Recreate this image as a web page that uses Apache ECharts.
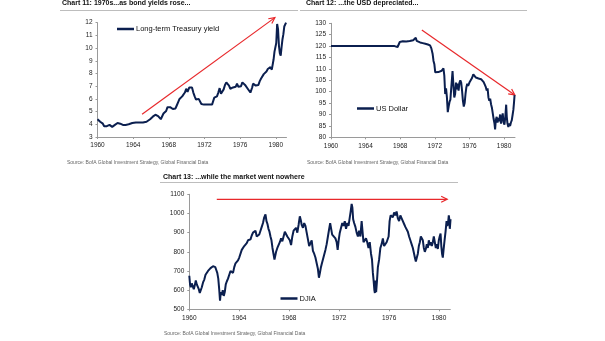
<!DOCTYPE html>
<html><head><meta charset="utf-8">
<script src="https://cdn.jsdelivr.net/npm/echarts@6/dist/echarts.min.js"></script>
<style>html,body{margin:0;padding:0;background:#fff}#c{width:605px;height:341px}</style>
</head><body><div id="c"></div>
<script>
// ---- data ----
const yearTicks = [1960, 1964, 1968, 1972, 1976, 1980];
const treasuryYield = [
[1960.0,4.4],[1960.15,4.25],[1960.3,4.2],[1960.45,4.25],[1960.6,4.05],[1960.75,3.85],[1960.9,3.95],
[1961.05,3.85],[1961.2,3.8],[1961.35,3.95],[1961.5,3.9],[1961.65,3.8],[1961.8,3.75],[1961.95,3.95],
[1962.1,4.05],[1962.25,4.1],[1962.4,4.0],[1962.55,4.05],[1962.7,4.15],[1962.85,3.95],[1963.0,3.9],
[1963.15,3.95],[1963.3,4.0],[1963.5,4.0],[1963.7,4.05],[1963.9,4.1],[1964.1,4.2],[1964.3,4.15],
[1964.5,4.2],[1964.7,4.15],[1964.9,4.15],[1965.1,4.15],[1965.3,4.15],[1965.5,4.2],[1965.7,4.25],
[1965.9,4.4],[1966.05,4.55],[1966.2,4.6],[1966.35,4.55],[1966.5,4.75],[1966.65,4.8],[1966.8,4.65],
[1966.95,4.5],[1967.1,4.4],[1967.25,4.55],[1967.4,4.85],[1967.55,4.95],[1967.7,5.05],[1967.85,5.35],
[1968.0,5.45],[1968.15,5.35],[1968.3,5.45],[1968.45,5.2],[1968.6,5.1],[1968.75,5.25],[1968.9,5.5],
[1969.05,5.75],[1969.2,6.0],[1969.35,5.9],[1969.5,6.2],[1969.65,6.1],[1969.8,6.5],[1969.95,6.8],
[1970.1,6.55],[1970.2,6.7],[1970.3,6.9],[1970.4,6.95],[1970.5,6.75],[1970.6,6.9],[1970.75,6.5],
[1970.9,6.2],[1971.05,5.95],[1971.2,5.8],[1971.35,6.0],[1971.5,5.9],[1971.65,5.6],[1971.8,5.45],
[1971.95,5.55],[1972.1,5.6],[1972.25,5.55],[1972.4,5.7],[1972.55,5.55],[1972.7,5.65],[1972.85,5.55],
[1973.0,5.7],[1973.1,6.1],[1973.25,6.25],[1973.4,6.2],[1973.55,6.5],[1973.7,6.85],[1973.85,6.4],
[1974.0,6.5],[1974.15,6.75],[1974.3,7.1],[1974.45,7.3],[1974.6,7.2],[1974.75,7.05],[1974.9,6.8],
[1975.05,6.65],[1975.2,6.9],[1975.35,7.05],[1975.5,6.95],[1975.65,7.2],[1975.8,6.95],[1975.95,6.85],
[1976.1,7.0],[1976.25,7.3],[1976.4,7.2],[1976.55,7.1],[1976.7,7.0],[1976.85,6.8],[1977.0,6.75],
[1977.15,6.5],[1977.25,6.4],[1977.35,6.9],[1977.45,7.2],[1977.6,7.1],[1977.75,7.05],[1977.9,6.95],
[1978.05,7.1],[1978.2,7.4],[1978.35,7.6],[1978.5,7.75],[1978.65,7.95],[1978.8,7.8],[1978.95,8.15],
[1979.1,8.35],[1979.25,8.45],[1979.4,8.5],[1979.55,8.3],[1979.65,8.4],[1979.75,9.1],[1979.85,9.7],
[1979.95,9.8],[1980.05,10.4],[1980.15,11.9],[1980.25,11.5],[1980.35,10.2],[1980.45,9.6],[1980.55,9.4],
[1980.65,10.1],[1980.75,10.7],[1980.85,11.1],[1980.95,11.7],[1981.05,11.6],[1981.15,12.0]
];
const usDollar = [
[1960.0,120],[1961.0,120],[1962.0,120],[1963.0,120],[1964.0,120],[1965.0,120],[1966.0,120],
[1967.0,120],[1967.35,120],[1967.5,119.7],[1967.7,119.6],[1967.85,120.2],[1967.95,121.8],[1968.1,122.3],
[1968.3,122.1],[1968.5,122.2],[1968.7,122.0],[1968.9,122.3],[1969.1,122.2],[1969.3,122.5],[1969.5,122.6],
[1969.7,122.9],[1969.8,123.7],[1969.9,122.3],[1970.1,121.9],[1970.3,121.6],[1970.6,121.3],[1970.9,121.0],
[1971.2,120.7],[1971.45,120.3],[1971.6,119.0],[1971.75,116.5],[1971.85,113.5],[1971.95,112.0],[1972.05,108.5],
[1972.2,108.2],[1972.4,108.6],[1972.6,108.0],[1972.8,109.2],[1973.0,110.2],[1973.1,107],[1973.2,99],
[1973.3,101.5],[1973.4,97.5],[1973.5,91],[1973.6,93.5],[1973.7,95.5],[1973.8,96.5],[1973.95,97],
[1974.05,109],[1974.15,103],[1974.25,97.5],[1974.35,99],[1974.45,104],[1974.55,101],[1974.65,103.5],
[1974.75,100.5],[1974.85,104],[1974.95,105],[1975.05,104],[1975.15,100.5],[1975.25,96],[1975.35,93.5],
[1975.45,95],[1975.55,99],[1975.65,102],[1975.75,103.5],[1975.85,102.5],[1976.0,104],[1976.15,103.5],
[1976.3,106],[1976.45,107.6],[1976.6,106.8],[1976.75,106.2],[1976.9,106.4],[1977.05,105.8],[1977.2,106.1],
[1977.35,105.5],[1977.5,105.2],[1977.65,104.2],[1977.8,103.5],[1977.9,102],[1978.0,100.5],[1978.1,101.5],
[1978.2,97.5],[1978.3,96],[1978.4,97],[1978.5,94.5],[1978.6,93],[1978.7,90.5],[1978.8,88],
[1978.9,86],[1978.97,83.5],[1979.05,87.5],[1979.15,89],[1979.25,86.5],[1979.35,88.5],[1979.45,87],
[1979.55,90],[1979.65,86],[1979.75,88.5],[1979.85,90.5],[1979.95,86.5],[1980.05,85.5],[1980.15,89],
[1980.25,94.3],[1980.32,89],[1980.4,86],[1980.5,84.5],[1980.6,86],[1980.7,85],[1980.8,86.5],
[1980.9,87.5],[1981.0,90],[1981.08,92],[1981.15,95],[1981.22,98.5]
];
const djia = [
[1960.0,675],[1960.06,630],[1960.12,615],[1960.2,635],[1960.28,620],[1960.36,605],[1960.44,625],
[1960.52,650],[1960.6,630],[1960.68,640],[1960.76,605],[1960.84,585],[1960.92,595],[1961.0,615],
[1961.1,640],[1961.2,655],[1961.3,680],[1961.4,690],[1961.5,700],[1961.6,695],[1961.7,715],
[1961.8,705],[1961.9,725],[1962.0,730],[1962.08,720],[1962.16,705],[1962.24,690],[1962.32,660],
[1962.4,600],[1962.46,545],[1962.52,590],[1962.6,575],[1962.68,600],[1962.76,570],[1962.84,590],
[1962.92,630],[1963.0,645],[1963.1,660],[1963.2,680],[1963.3,700],[1963.4,705],[1963.5,690],
[1963.6,720],[1963.7,740],[1963.8,735],[1963.9,755],[1964.0,770],[1964.1,780],[1964.2,810],
[1964.3,820],[1964.4,830],[1964.5,825],[1964.6,845],[1964.7,860],[1964.8,870],[1964.9,865],
[1965.0,885],[1965.1,900],[1965.2,890],[1965.3,910],[1965.4,880],[1965.5,870],[1965.6,890],
[1965.7,910],[1965.8,930],[1965.9,950],[1966.0,980],[1966.1,995],[1966.18,960],[1966.26,945],
[1966.34,920],[1966.42,905],[1966.5,880],[1966.58,860],[1966.66,820],[1966.74,790],[1966.82,760],
[1966.88,750],[1966.95,800],[1967.05,820],[1967.15,815],[1967.25,850],[1967.35,870],[1967.45,855],
[1967.55,880],[1967.65,905],[1967.75,895],[1967.85,880],[1967.95,885],[1968.05,860],[1968.15,835],
[1968.25,880],[1968.35,910],[1968.45,900],[1968.55,925],[1968.65,900],[1968.75,940],[1968.85,985],
[1968.93,965],[1969.0,940],[1969.1,925],[1969.2,950],[1969.3,935],[1969.4,900],[1969.5,865],
[1969.6,830],[1969.7,835],[1969.8,860],[1969.9,805],[1970.0,790],[1970.1,770],[1970.2,740],
[1970.3,710],[1970.38,665],[1970.46,690],[1970.54,720],[1970.62,740],[1970.7,760],[1970.8,765],
[1970.9,810],[1971.0,840],[1971.1,880],[1971.2,920],[1971.28,950],[1971.36,920],[1971.44,890],
[1971.52,900],[1971.6,880],[1971.7,870],[1971.8,850],[1971.88,810],[1971.96,860],[1972.05,900],
[1972.15,910],[1972.25,950],[1972.35,935],[1972.45,960],[1972.55,920],[1972.65,950],[1972.75,935],
[1972.85,980],[1972.92,1010],[1973.0,1050],[1973.06,1030],[1973.12,970],[1973.2,950],[1973.3,930],
[1973.4,900],[1973.5,880],[1973.6,910],[1973.7,880],[1973.8,960],[1973.88,900],[1973.95,850],
[1974.05,860],[1974.15,870],[1974.25,850],[1974.35,820],[1974.45,850],[1974.55,790],[1974.63,760],
[1974.7,690],[1974.76,650],[1974.82,600],[1974.86,585],[1974.9,650],[1974.96,590],[1975.02,640],
[1975.1,720],[1975.2,760],[1975.3,820],[1975.4,840],[1975.5,870],[1975.6,830],[1975.7,820],
[1975.8,850],[1975.9,840],[1975.96,880],[1976.04,960],[1976.12,990],[1976.2,1000],[1976.3,980],
[1976.4,1005],[1976.5,990],[1976.6,1010],[1976.7,975],[1976.8,960],[1976.9,990],[1977.0,1000],
[1977.1,960],[1977.2,945],[1977.3,930],[1977.4,920],[1977.5,905],[1977.6,880],[1977.7,860],
[1977.8,840],[1977.9,820],[1978.0,790],[1978.08,765],[1978.14,750],[1978.22,770],[1978.3,790],
[1978.38,830],[1978.46,850],[1978.54,880],[1978.62,890],[1978.7,860],[1978.78,820],[1978.86,800],
[1978.94,815],[1979.02,840],[1979.1,820],[1979.18,860],[1979.26,835],[1979.34,850],[1979.42,830],
[1979.5,850],[1979.58,880],[1979.66,870],[1979.74,820],[1979.82,840],[1979.9,815],[1979.98,860],
[1980.05,880],[1980.12,895],[1980.18,830],[1980.24,790],[1980.3,770],[1980.36,810],[1980.44,860],
[1980.52,905],[1980.6,960],[1980.66,935],[1980.72,950],[1980.78,990],[1980.82,970],[1980.86,920],[1980.92,970]
];
const arrow11 = [[1965.0, 4.8, 1979.9, 12.4]];
const arrow12 = [[1970.5, 127.1, 1981.25, 98.6]];
const arrow13 = [[1962.2, 1074, 1980.65, 1074]];
// ---- styles ----
const NAVY = '#0b1f4f', RED = '#e8282b', AXIS = '#9a9a9a';
const FONT = "'Liberation Sans Narrow','Liberation Sans',Arial,sans-serif";
const chart = echarts.init(document.getElementById('c'), null, {renderer: 'canvas'});
function xAx(gi, max) {
  return {type: 'value', gridIndex: gi, min: 1960, max: max,
    axisLine: {lineStyle: {color: AXIS, width: 1}},
    axisTick: {show: true, length: 2, lineStyle: {color: AXIS}, customValues: yearTicks},
    axisLabel: {fontSize: 6.5, color: '#222', fontFamily: FONT, margin: 5, customValues: yearTicks,
      formatter: v => String(Math.round(v))},
    splitLine: {show: false}};
}
function yAx(gi, min, max, iv) {
  return {type: 'value', gridIndex: gi, min: min, max: max, interval: iv,
    axisLine: {show: true, lineStyle: {color: AXIS, width: 1}},
    axisTick: {show: true, length: 2, lineStyle: {color: AXIS}},
    axisLabel: {fontSize: 6.5, color: '#222', fontFamily: FONT, margin: 5, formatter: v => String(v)},
    splitLine: {show: false}};
}
function lineSeries(name, gi, data) {
  return {type: 'line', name: name, xAxisIndex: gi, yAxisIndex: gi, data: data,
    showSymbol: false, symbol: 'none', lineStyle: {color: NAVY, width: 2}, itemStyle: {color: NAVY},
    silent: true, animation: false};
}
function arrowSeries(gi, data) {
  return {type: 'custom', xAxisIndex: gi, yAxisIndex: gi, data: data, silent: true, animation: false,
    clip: false, encode: {x: [0, 2], y: [1, 3]},
    renderItem: (params, api) => {
      const p1 = api.coord([api.value(0), api.value(1)]);
      const p2 = api.coord([api.value(2), api.value(3)]);
      const dx = p2[0] - p1[0], dy = p2[1] - p1[1];
      const L = Math.sqrt(dx * dx + dy * dy), ux = dx / L, uy = dy / L;
      const hl = 6, hw = 3;
      const bx = p2[0] - ux * hl, by = p2[1] - uy * hl;
      return {type: 'group', children: [
        {type: 'line', shape: {x1: p1[0], y1: p1[1], x2: p2[0], y2: p2[1]},
          style: {stroke: RED, lineWidth: 1.2}},
        {type: 'polyline', shape: {points: [[bx - uy * hw, by + ux * hw], [p2[0], p2[1]], [bx + uy * hw, by - ux * hw]]},
          style: {stroke: RED, lineWidth: 1.2, fill: null}}
      ]};
    }};
}
function legendAt(name, left, top) {
  return {data: [name], left: left, top: top, padding: 0, itemGap: 0, icon: 'rect',
    itemWidth: 17, itemHeight: 2.5, selectedMode: false,
    textStyle: {fontSize: 7.5, color: '#111', fontFamily: FONT, padding: [0, 0, 0, -3]}};
}
function titleText(x, y, s) {
  return {type: 'text', left: x, top: y, style: {text: s, fontSize: 7, fontWeight: 'bold', fill: '#111',
    fontFamily: "'Liberation Sans',Arial,sans-serif"}};
}
function srcText(x, y) {
  return {type: 'text', left: x, top: y, style: {text: 'Source: BofA Global Investment Strategy, Global Financial Data',
    fontSize: 5, fill: '#666', fontFamily: FONT}};
}
function rule(x1, x2, y) {
  return {type: 'line', shape: {x1: x1, y1: y, x2: x2, y2: y}, style: {stroke: '#bdbdbd', lineWidth: 1}};
}
chart.setOption({
  animation: false,
  backgroundColor: '#fff',
  grid: [
    {left: 97.5, top: 22.7, width: 189, height: 114.3, containLabel: false},
    {left: 331, top: 23.3, width: 184, height: 114, containLabel: false},
    {left: 189.3, top: 194.3, width: 261, height: 115, containLabel: false}
  ],
  xAxis: [xAx(0, 1981.2), xAx(1, 1981.27), xAx(2, 1980.9)],
  yAxis: [yAx(0, 3, 12, 1), yAx(1, 80, 130, 5), yAx(2, 500, 1100, 100)],
  legend: [legendAt('Long-term Treasury yield', 117, 25), legendAt('US Dollar', 357, 104.5), legendAt('DJIA', 280.5, 294.5)],
  series: [
    lineSeries('Long-term Treasury yield', 0, treasuryYield),
    lineSeries('US Dollar', 1, usDollar),
    lineSeries('DJIA', 2, djia),
    arrowSeries(0, arrow11), arrowSeries(1, arrow12), arrowSeries(2, arrow13)
  ],
  graphic: [
    titleText(62, 0, 'Chart 11: 1970s...as bond yields rose...'),
    titleText(306, 0, 'Chart 12: ...the USD depreciated...'),
    titleText(163, 174, 'Chart 13: ...while the market went nowhere'),
    rule(60, 298, 10.5), rule(300, 527, 10.5), rule(160, 458, 182.5),
    srcText(67, 160.5), srcText(307, 160.5), srcText(164, 331.5)
  ]
});
</script></body></html>
